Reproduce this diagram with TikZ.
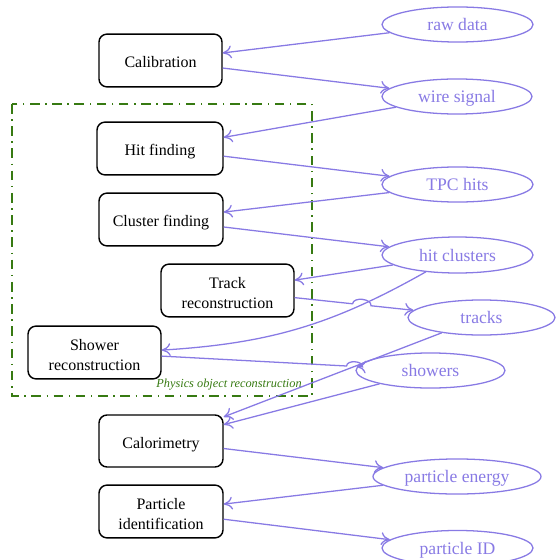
\documentclass[tikz,border=0pt]{standalone}
\usepackage{fontspec}
\setmainfont{Liberation Serif}
\usetikzlibrary{shapes.geometric,arrows.meta,calc,intersections}
\definecolor{pcol}{RGB}{136,122,228}
\definecolor{gcol}{RGB}{55,122,18}
\newcommand{\mytopstrut}{\rule{0pt}{9.5pt}}
\begin{document}
\begin{tikzpicture}[x=0.625pt,y=0.625pt,
  proc/.style={draw, rounded corners=5pt, line width=0.9pt, minimum height=33pt,
    align=center, font=\fontsize{10}{12.5}\selectfont, inner sep=2pt},
  oneline/.style={text height=9.3pt, text depth=0.5pt},
  data/.style={ellipse, draw=pcol, text=pcol, line width=0.8pt, minimum width=94.4pt,
    minimum height=21.9pt, font=\fontsize{11}{13}\selectfont, inner sep=1pt,
    text height=8.8pt, text depth=0.8pt},
  flow/.style={draw=pcol, line width=0.8pt, -{To[length=5.5pt,width=8pt]}},
  groupbox/.style={draw=gcol, line width=0.9pt, dash pattern=on 6pt off 3.5pt on 0.9pt off 3.5pt},
]
\useasboundingbox (0,0) rectangle (555,-560);

% group box
\draw[groupbox] (12,-104) rectangle (312,-396);
\node[anchor=base east, inner sep=0, font=\fontsize{7.7}{9}\selectfont\itshape, text=gcol] (grouplabel) at (302,-387) {Physics object reconstruction};

% process boxes
\node[proc, oneline, minimum width=76.9pt] (calib) at (160.5,-60.5) {Calibration};
\node[proc, oneline, minimum width=78.75pt] (hit) at (160,-148.5) {Hit finding};
\node[proc, oneline, minimum width=77.5pt] (cluster) at (161,-219.5) {Cluster finding};
\node[proc, minimum width=83.1pt] (track) at (227.5,-290.5) {\mytopstrut Track\\reconstruction};
\node[proc, minimum width=83.1pt] (shower) at (94.5,-352.5) {\mytopstrut Shower\\reconstruction};
\node[proc, oneline, minimum width=77.5pt, minimum height=32.5pt] (calo) at (161,-441) {Calorimetry};
\node[proc, minimum width=77.5pt] (pid) at (161,-511.5) {\mytopstrut Particle\\identification};

% data ellipses
\node[data] (raw) at (457.5,-24.5) {raw data};
\node[data, minimum width=93.8pt] (wire) at (457,-96.5) {wire signal};
\node[data] (tpc) at (457.5,-184.5) {TPC hits};
\node[data, minimum height=22.5pt] (hitcl) at (457.5,-255) {hit clusters};
\node[data, minimum width=91.9pt] (tracks) at (481.5,-317.5) {tracks};
\node[data, minimum width=93.1pt] (showers) at (430.5,-370.5) {showers};
\node[data, minimum width=105pt] (energy) at (457,-476.5) {particle energy};
\node[data] (pidout) at (457.5,-548) {particle ID};

% straight connectors
\draw[flow] (raw) -- (calib);
\draw[flow] (calib) -- (wire);
\draw[flow] (wire) -- (hit);
\draw[flow] (hit) -- (tpc);
\draw[flow] (tpc) -- (cluster);
\draw[flow] (cluster) -- (hitcl);
\draw[flow] (hitcl) -- (track);
\draw[flow, name path=curveA] (hitcl) to[bend left=13] (shower);
\draw[flow, name path=lineB] (tracks) -- (calo);
\draw[flow] (showers) -- (calo);
\draw[flow] (calo) -- (energy);
\draw[flow] (energy) -- (pid);
\draw[flow] (pid) -- (pidout);

% connectors with hops
\path[name path=lineA] (track) -- (tracks);
\path[name intersections={of=curveA and lineA, by=xa}];
\draw[flow] let \p1=($(tracks)-(track)$), \n1={atan2(\y1,\x1)} in
  (track) -- ($(xa)!5.8pt!(track)$) to[out=\n1+90, in=\n1+90] ($(xa)!5.8pt!(tracks)$) -- (tracks);

\path[name path=lineC] (shower) -- (showers);
\path[name intersections={of=lineB and lineC, by=xb}];
\draw[flow] let \p1=($(showers)-(shower)$), \n1={atan2(\y1,\x1)} in
  (shower) -- ($(xb)!5pt!(shower)$) to[out=\n1+90, in=\n1+90] ($(xb)!5pt!(showers)$) -- (showers);
\end{tikzpicture}
\end{document}
